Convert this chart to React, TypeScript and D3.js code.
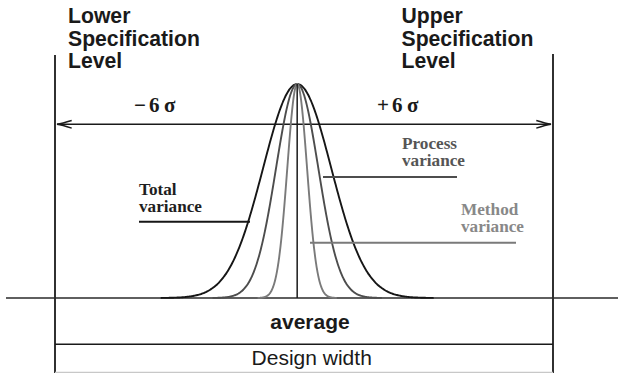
import React from "react";
import * as d3 from "d3";

// Process capability sketch: three normal curves sharing one mean,
// bounded by lower / upper specification levels.
const W = 618;
const H = 373;

// Positions along the measurement axis, in units of the total standard deviation
const specLimits = [-7.1, 7.5]; // lower, upper specification level
const meanValue = 0;

// Spread of each distribution (total sd = 1)
const curveNames = ["Total variance", "Process variance", "Method variance"];
const curveSigmas = [1.0, 0.62, 0.29];
const curveColors = ["#161616", "#4d4d4d", "#7a7a7a"];

// Label text
const limitLabels = [["Lower", "Specification", "Level"], ["Upper", "Specification", "Level"]];
const sigmaSigns = ["\u2212", "+"];
const sigmaCount = "6";
const sigmaSymbol = "\u03c3";
const rowLabels = ["average", "Design width"];

const x = d3.scaleLinear().domain(specLimits).range([55, 553]);
const y = d3.scaleLinear().domain([0, 1]).range([298, 84]);

function curvePath(sigma: number): string {
  const pts = d3.range(-4 * sigma, 4 * sigma + 1e-9, sigma / 40).map((v) => [v, Math.exp(-(v * v) / (2 * sigma * sigma))] as [number, number]);
  const line = d3
    .line<[number, number]>()
    .x((d) => x(meanValue + d[0]))
    .y((d) => y(d[1]))
    .curve(d3.curveBasis);
  return line(pts) || "";
}

const sans = "'Liberation Sans', Arial, Helvetica, sans-serif";
const serif = "'Liberation Serif', 'Times New Roman', serif";

function SigmaLabel({ x0, sign }: { x0: number; sign: string }) {
  return (
    <text y={111.7} fontFamily={serif} fontWeight="bold" fontSize={21} fill="#1a1a1a">
      <tspan x={x0}>{sign}</tspan>
      <tspan x={x0 + 15}>{sigmaCount}</tspan>
      <tspan x={x0 + 30}>{sigmaSymbol}</tspan>
    </text>
  );
}

export default function App() {
  const xl = x(specLimits[0]);
  const xu = x(specLimits[1]);
  const xm = x(meanValue);
  const yBase = y(0);
  const yArrow = 124.3;
  const yRow = 344.3;

  return (
    <svg
      width={W}
      height={H}
      viewBox={`0 0 ${W} ${H}`}
      style={{ position: "absolute", left: 0, top: 0, display: "block", background: "#fff" }}
    >
      {/* specification level labels */}
      {limitLabels.map((lines, i) => (
        <text key={i} x={i === 0 ? 68 : 401.5} y={23.3} fontFamily={sans} fontWeight="bold" fontSize={21.2} fill="#1a1a1a">
          {lines.map((t, j) => (
            <tspan key={j} x={i === 0 ? 68 : 401.5} y={23.3 + j * 22.2}>
              {t}
            </tspan>
          ))}
        </text>
      ))}

      {/* specification level lines */}
      <line x1={xl} x2={xl} y1={55} y2={H} stroke="#1a1a1a" strokeWidth={1.8} />
      <line x1={xu} x2={xu} y1={54} y2={H} stroke="#1a1a1a" strokeWidth={1.8} />

      {/* six sigma arrow */}
      <line x1={xl + 2} x2={xu - 2} y1={yArrow} y2={yArrow} stroke="#1a1a1a" strokeWidth={1.5} />
      <path
        d={`M ${xl + 16.7} ${yArrow - 3.8} Q ${xl + 7} ${yArrow - 0.8} ${xl + 2} ${yArrow} Q ${xl + 7} ${yArrow + 0.8} ${xl + 16.7} ${yArrow + 3.8}`}
        fill="none"
        stroke="#1a1a1a"
        strokeWidth={1.4}
      />
      <path
        d={`M ${xu - 16.7} ${yArrow - 3.8} Q ${xu - 7} ${yArrow - 0.8} ${xu - 2} ${yArrow} Q ${xu - 7} ${yArrow + 0.8} ${xu - 16.7} ${yArrow + 3.8}`}
        fill="none"
        stroke="#1a1a1a"
        strokeWidth={1.4}
      />
      <SigmaLabel x0={134} sign={sigmaSigns[0]} />
      <SigmaLabel x0={377} sign={sigmaSigns[1]} />

      {/* baseline */}
      <line x1={6} x2={W} y1={yBase} y2={yBase} stroke="#2a2a2a" strokeWidth={1.5} />

      {/* distributions */}
      {curveSigmas.map((s, i) => (
        <path key={curveNames[i]} d={curvePath(s)} fill="none" stroke={curveColors[i]} strokeWidth={1.9} />
      ))}
      <line x1={xm} x2={xm} y1={y(1)} y2={yBase} stroke="#1a1a1a" strokeWidth={1.5} />

      {/* curve callouts */}
      <line x1={139} x2={250} y1={221.7} y2={221.7} stroke={curveColors[0]} strokeWidth={2} />
      <text x={139} y={194.5} fontFamily={serif} fontWeight="bold" fontSize={17.2} fill="#1e1e1e">
        <tspan x={139} y={194.5}>Total</tspan>
        <tspan x={139} y={211.7}>variance</tspan>
      </text>

      <line x1={323} x2={457} y1={177} y2={177} stroke={curveColors[1]} strokeWidth={2} />
      <text x={402} y={148.5} fontFamily={serif} fontWeight="bold" fontSize={17.2} fill="#555">
        <tspan x={402} y={148.5}>Process</tspan>
        <tspan x={402} y={165.7}>variance</tspan>
      </text>

      <line x1={310} x2={516} y1={242.7} y2={242.7} stroke={curveColors[2]} strokeWidth={2} />
      <text x={461} y={214.5} fontFamily={serif} fontWeight="bold" fontSize={17.2} fill="#888">
        <tspan x={461} y={214.5}>Method</tspan>
        <tspan x={461} y={231.7}>variance</tspan>
      </text>

      {/* bottom rows */}
      <line x1={xl} x2={xu} y1={yRow} y2={yRow} stroke="#1a1a1a" strokeWidth={1.6} />
      <line x1={xl} x2={xu} y1={372.3} y2={372.3} stroke="#c8c8c8" strokeWidth={1.2} />
      <text x={310} y={329.3} textAnchor="middle" fontFamily={sans} fontWeight="bold" fontSize={21} fill="#1a1a1a">
        {rowLabels[0]}
      </text>
      <text x={311.7} y={365} textAnchor="middle" fontFamily={sans} fontSize={21} fill="#1a1a1a">
        {rowLabels[1]}
      </text>
    </svg>
  );
}
